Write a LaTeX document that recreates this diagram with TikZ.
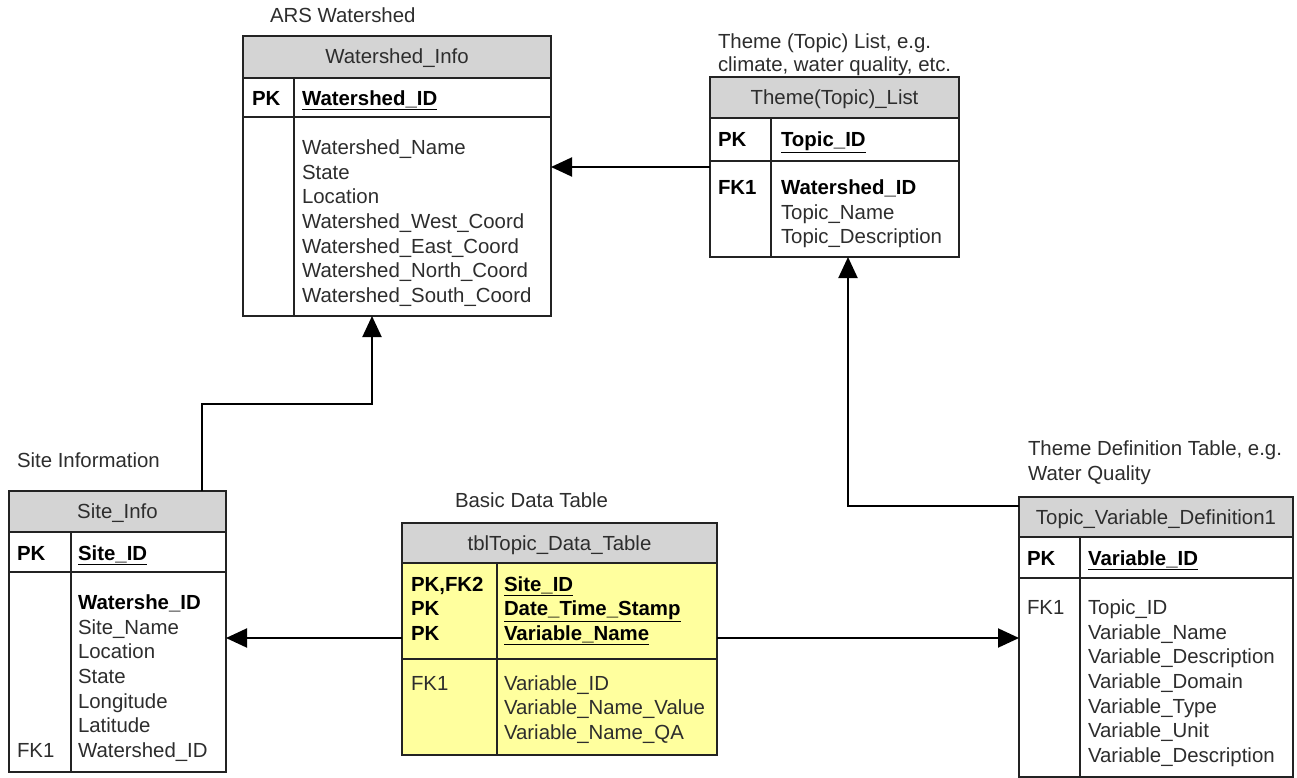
\documentclass[tikz,border=0pt]{standalone}
\usepackage{fontspec}
\setmainfont{Liberation Sans}
\usetikzlibrary{arrows.meta,calc}
\definecolor{hdr}{RGB}{212,212,212}
\definecolor{ylw}{RGB}{255,255,158}
\definecolor{txt}{RGB}{45,45,45}
\definecolor{brd}{RGB}{35,35,35}
\newcommand\erfont{\fontsize{20.4}{24.7}\selectfont}
\newcommand\ertab[9]{% name, x1, y1, x2, y2, yheader, ypk, xdivider, bodyfill
  \pgfmathsetmacro\ercx{(#2+#4)/2}\pgfmathsetmacro\ercy{(#3+#5)/2}%
  \pgfmathsetmacro\erw{#4-#2}\pgfmathsetmacro\erh{#5-#3}%
  \node[minimum width=\erw pt, minimum height=\erh pt] (#1) at (\ercx,\ercy) {};
  \fill[#9] (#2,#6) rectangle (#1.south east);
  \fill[hdr] (#1.north west) rectangle (#4,#6);
  \draw[tline] (#2,#6) -- (#4,#6) (#2,#7) -- (#4,#7) (#8,#6) -- (#8,#5);
  \draw[tline] (#1.north west) rectangle (#1.south east);
}
\begin{document}
\begin{tikzpicture}[x=1pt,y=-1pt,
  every node/.style={font=\erfont, inner sep=0pt, outer sep=0pt},
  tline/.style={draw=brd, line width=1.3pt},
  ttl/.style={anchor=base, text=txt},
  lbl/.style={anchor=base west, text=txt},
  fld/.style={anchor=base west, text=txt},
  bfld/.style={anchor=base west, text=black, font=\erfont\bfseries},
  arr/.style={draw=black, line width=2pt, -{Triangle[length=21pt,width=19pt]}}]
\useasboundingbox (0,0) rectangle (1297,778);
\fill[white] (0,0) rectangle (1297,778);

% ---------- Watershed_Info ----------
\ertab{wi}{243}{36}{551}{316}{78}{117}{294}{white}
\node[lbl] (wi-l) at (270,22.3) {ARS Watershed};
\node[ttl] (wi-t) at (397,63.3) {Watershed\_Info};
\node[bfld] (wi-pk) at (252,105.3) {PK};
\node[bfld] (wi-id) at (302,105.3) {\underline{Watershed\_ID}};
\node[fld] (wi-a1) at (302,154.3) {Watershed\_Name};
\node[fld] (wi-a2) at (302,179.0) {State};
\node[fld] (wi-a3) at (302,203.7) {Location};
\node[fld] (wi-a4) at (302,228.3) {Watershed\_West\_Coord};
\node[fld] (wi-a5) at (302,253.0) {Watershed\_East\_Coord};
\node[fld] (wi-a6) at (302,277.7) {Watershed\_North\_Coord};
\node[fld] (wi-a7) at (302,302.3) {Watershed\_South\_Coord};

% ---------- Theme(Topic)_List ----------
\ertab{tl}{710}{77}{959}{257}{118}{161}{771}{white}
\node[lbl] (tl-l1) at (718,49.0) {Theme (Topic) List, e.g.};
\node[lbl] (tl-l2) at (718,71.3) {climate, water quality, etc.};
\node[ttl] (tl-t) at (834.5,104.6) {Theme(Topic)\_List};
\node[bfld] (tl-pk) at (718,146.3) {PK};
\node[bfld] (tl-id) at (781,146.3) {\underline{Topic\_ID}};
\node[bfld] (tl-fk) at (718,194.3) {FK1};
\node[bfld] (tl-a1) at (781,194.3) {Watershed\_ID};
\node[fld] (tl-a2) at (781,219.3) {Topic\_Name};
\node[fld] (tl-a3) at (781,243.3) {Topic\_Description};

% ---------- Site_Info ----------
\ertab{si}{9}{491}{226}{772}{532}{572}{71}{white}
\node[lbl] (si-l) at (17,467.3) {Site Information};
\node[ttl] (si-t) at (117.5,518.3) {Site\_Info};
\node[bfld] (si-pk) at (17,560.3) {PK};
\node[bfld] (si-id) at (78,560.3) {\underline{Site\_ID}};
\node[bfld] (si-a1) at (78,609.3) {Watershe\_ID};
\node[fld] (si-a2) at (78,634.0) {Site\_Name};
\node[fld] (si-a3) at (78,658.7) {Location};
\node[fld] (si-a4) at (78,683.3) {State};
\node[fld] (si-a5) at (78,708.0) {Longitude};
\node[fld] (si-a6) at (78,732.7) {Latitude};
\node[fld] (si-a7) at (78,757.3) {Watershed\_ID};
\node[fld] (si-fk) at (17,757.3) {FK1};

% ---------- tblTopic_Data_Table ----------
\ertab{tb}{402}{523}{717}{755}{563}{659}{497}{ylw}
\node[lbl] (tb-l) at (455,507.3) {Basic Data Table};
\node[ttl] (tb-t) at (559.5,550.3) {tblTopic\_Data\_Table};
\node[bfld] (tb-k1) at (411,591.3) {PK,FK2};
\node[bfld] (tb-k2) at (411,615.3) {PK};
\node[bfld] (tb-k3) at (411,640.3) {PK};
\node[bfld] (tb-p1) at (504,591.3) {\underline{Site\_ID}};
\node[bfld] (tb-p2) at (504,615.3) {\underline{Date\_Time\_Stamp}};
\node[bfld] (tb-p3) at (504,640.3) {\underline{Variable\_Name}};
\node[fld] (tb-fk) at (411,690.3) {FK1};
\node[fld] (tb-a1) at (504,690.3) {Variable\_ID};
\node[fld] (tb-a2) at (504,714.3) {Variable\_Name\_Value};
\node[fld] (tb-a3) at (504,739.3) {Variable\_Name\_QA};

% ---------- Topic_Variable_Definition1 ----------
\ertab{tv}{1019}{497}{1293}{777}{537}{578}{1080}{white}
\node[lbl] (tv-l1) at (1028,455.3) {Theme Definition Table, e.g.};
\node[lbl] (tv-l2) at (1028,480.3) {Water Quality};
\node[ttl] (tv-t) at (1156,524.3) {Topic\_Variable\_Definition1};
\node[bfld] (tv-pk) at (1027,565.3) {PK};
\node[bfld] (tv-id) at (1088,565.3) {\underline{Variable\_ID}};
\node[fld] (tv-fk) at (1027,614.3) {FK1};
\node[fld] (tv-a1) at (1088,614.3) {Topic\_ID};
\node[fld] (tv-a2) at (1088,639.0) {Variable\_Name};
\node[fld] (tv-a3) at (1088,663.7) {Variable\_Description};
\node[fld] (tv-a4) at (1088,688.3) {Variable\_Domain};
\node[fld] (tv-a5) at (1088,713.0) {Variable\_Type};
\node[fld] (tv-a6) at (1088,737.7) {Variable\_Unit};
\node[fld] (tv-a7) at (1088,762.3) {Variable\_Description};

% ---------- connectors ----------
\coordinate (tbw) at ([yshift=1pt]tb.west);
\coordinate (tbe) at ([yshift=1pt]tb.east);
\coordinate (bend) at (202,404);
\draw[arr] (tl.west) -- (wi.east |- tl.west);
\draw[arr] (si.north -| bend) -- (bend) -| ([xshift=-25pt]wi.south);
\draw[arr] (tbw) -- (si.east |- tbw);
\draw[arr] (tbe) -- (tv.west |- tbe);
\draw[arr] ([yshift=-9pt]tv.north west) -| ([xshift=13.5pt]tl.south);
\end{tikzpicture}
\end{document}
